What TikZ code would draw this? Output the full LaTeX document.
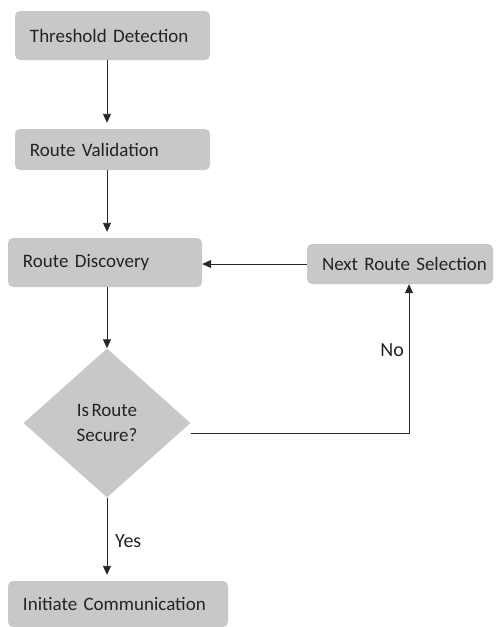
\documentclass[tikz,border=0pt]{standalone}
\usepackage{fontspec}
\setmainfont{Carlito}[WordSpace=0.55]
\usetikzlibrary{shapes.geometric,arrows.meta,backgrounds}
\definecolor{boxgray}{RGB}{200,200,200}
\definecolor{bevtop}{RGB}{150,150,150}
\definecolor{bevbot}{RGB}{185,185,185}
\definecolor{txt}{RGB}{35,35,35}
\definecolor{ln}{RGB}{40,40,40}
\tikzset{
  flowbox/.style={fill=boxgray, rounded corners=5pt, inner xsep=15pt, inner ysep=0pt,
    align=left, text=txt, font=\fontsize{19}{22}\selectfont},
  decision/.style={diamond, fill=boxgray, inner sep=0pt, align=center, text=txt,
    font=\fontsize{19}{25}\selectfont},
  arr/.style={draw=ln, line width=0.9pt, -{Triangle[length=9pt,width=8pt]}},
  lbl/.style={text=txt, font=\fontsize{20}{22}\selectfont, inner sep=0pt},
  bevel/.style={top color=bevtop, bottom color=bevbot, rounded corners=3pt}
}
\begin{document}
\begin{tikzpicture}[x=1pt,y=-1pt]
\useasboundingbox (0,0) rectangle (497,627);
\fill[white] (0,0) rectangle (497,627);
% boxes (body only; bevel drawn behind)
\node[flowbox, text width=165pt, minimum height=49pt] (thr) at (112.5,35.5) {\mbox{Threshold Detection}};
\node[flowbox, text width=165pt, minimum height=41pt] (val) at (112.5,149.5) {\mbox{Route Validation}};
\node[flowbox, text width=164pt, minimum height=49pt] (disc) at (105,262.5) {\mbox{Route Discovery}};
\node[flowbox, text width=156pt, minimum height=40pt] (next) at (400,264) {\mbox{Next Route Selection}};
\node[flowbox, text width=190pt, minimum height=46pt] (init) at (118,604) {\mbox{Initiate Communication}};
\node[decision, minimum width=167pt, minimum height=149pt] (dia) at (107,423) {Is Route\\Secure?};
\begin{scope}[on background layer]
\foreach \n in {thr,val,disc,next,init}{
  \fill[bevel] ([xshift=4pt,yshift=6pt]\n.north west) -- ([xshift=-4pt,yshift=6pt]\n.north east)
    -- ([yshift=-4pt]\n.north east) -- ([yshift=-4pt]\n.north west) -- cycle;
}
\end{scope}
\coordinate (noturn) at (409,433);
% connectors
\draw[arr] (thr.south -| dia.north) -- ([yshift=6pt]val.north -| dia.north);
\draw[arr] (val.south -| dia.north) -- ([yshift=6pt]disc.north -| dia.north);
\draw[arr] (disc.south -| dia.north) -- (dia.north);
\draw[arr] (next.west) -- (next.west -| disc.east);
\draw[arr] ([yshift=-10pt]dia.east) -- (noturn) -- (noturn |- next.south);
\draw[arr] (dia.south) -- ([yshift=6pt]init.north -| dia.south);
\node[lbl, anchor=east] (no) at (404,350) {No};
\node[lbl, anchor=west] (yes) at (115,541) {Yes};
\end{tikzpicture}
\end{document}
